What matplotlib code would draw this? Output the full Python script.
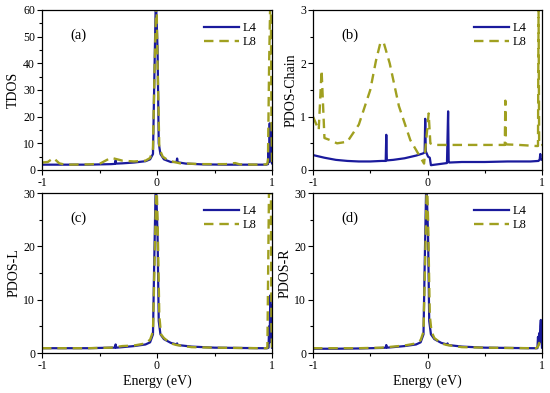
import matplotlib
matplotlib.use('Agg')
import matplotlib.pyplot as plt
from matplotlib.ticker import MultipleLocator

plt.rcParams['font.family'] = ['Liberation Serif', 'DejaVu Serif']

# ---- data ----
# (a) TDOS
a_e4 = [-1, -0.8, -0.6, -0.4, -0.365, -0.36, -0.355, -0.3, -0.2, -0.1, -0.06, -0.035, -0.025,
        -0.01, 0.005, 0.015, 0.03, 0.06, 0.12, 0.17, 0.175, 0.18, 0.25, 0.4, 0.6, 0.8, 0.95,
        0.965, 0.97, 0.975, 0.98, 0.985, 0.99, 0.995, 1.0]
a_v4 = [2.0, 2.0, 2.0, 2.2, 2.3, 3.6, 2.4, 2.5, 2.8, 3.3, 4.0, 6.0, 30, 65, 45, 10, 6.0, 4.0,
        3.0, 3.0, 4.3, 2.9, 2.4, 2.1, 2.0, 2.0, 2.0, 2.2, 7.0, 3.0, 17.5, 4.0, 16, 3.0, 2.5]
a_e8 = [-1, -0.95, -0.9, -0.85, -0.8, -0.6, -0.5, -0.4, -0.3, -0.2, -0.1, -0.06, -0.035, -0.02,
        -0.005, 0.005, 0.02, 0.05, 0.1, 0.2, 0.4, 0.6, 0.68, 0.72, 0.9, 0.95, 0.96, 0.965, 0.975,
        0.985, 0.99, 0.995, 1.0]
a_v8 = [2.8, 3.0, 4.5, 2.5, 2.0, 2.1, 2.3, 4.6, 3.5, 3.2, 3.5, 4.5, 8.0, 40, 65, 40, 8.0, 5.0,
        3.5, 2.5, 2.2, 2.2, 2.6, 2.1, 2.0, 2.1, 2.5, 4.0, 40, 64, 64, 20, 3.0]

# (b) PDOS-Chain
b_e4 = [-1, -0.9, -0.8, -0.7, -0.6, -0.5, -0.4, -0.365, -0.36, -0.355, -0.3, -0.2, -0.1, -0.04,
        -0.025, -0.02, -0.015, -0.005, 0.005, 0.02, 0.03, 0.1, 0.17, 0.18, 0.185, 0.19, 0.3, 0.5,
        0.7, 0.9, 0.97, 0.98, 0.985, 0.99, 1.0]
b_v4 = [0.28, 0.23, 0.19, 0.17, 0.16, 0.16, 0.17, 0.17, 0.66, 0.18, 0.19, 0.22, 0.27, 0.31,
        0.33, 0.96, 0.35, 0.3, 0.25, 0.23, 0.09, 0.11, 0.13, 1.1, 0.15, 0.14, 0.15, 0.15,
        0.16, 0.16, 0.17, 0.2, 0.3, 0.2, 0.19]
b_e8 = [-1, -0.95, -0.925, -0.9, -0.85, -0.79, -0.7, -0.6, -0.5, -0.45, -0.41, -0.38, -0.33,
        -0.25, -0.15, -0.03, 0.01, 0.025, 0.05, 0.3, 0.5, 0.675, 0.68, 0.685, 0.8, 0.95,
        0.965, 0.97, 0.975, 0.985, 1.0]
b_v8 = [1.0, 0.75, 1.87, 0.6, 0.56, 0.5, 0.53, 0.85, 1.5, 2.05, 2.4, 2.37, 2.0, 1.2, 0.56,
        0.12, 1.06, 0.5, 0.47, 0.47, 0.47, 0.47, 1.3, 0.48, 0.47, 0.45, 0.45, 3.0, 0.5,
        0.46, 0.47]

# (c) PDOS-L
c_e4 = [-1, -0.8, -0.6, -0.4, -0.365, -0.36, -0.355, -0.3, -0.2, -0.1, -0.06, -0.035, -0.025,
        -0.01, 0.005, 0.015, 0.03, 0.06, 0.12, 0.17, 0.175, 0.18, 0.3, 0.5, 0.7, 0.9, 0.96,
        0.97, 0.975, 0.98, 0.985, 0.99, 0.995, 1.0]
c_v4 = [0.9, 0.9, 0.9, 1.0, 1.0, 1.6, 1.0, 1.1, 1.3, 1.6, 2.0, 3.5, 16, 33, 22, 6.0, 3.5, 2.6,
        1.9, 1.6, 1.8, 1.5, 1.2, 1.0, 0.95, 0.9, 0.9, 1.0, 5.0, 2.0, 10.8, 3.5, 9.0, 1.0]
c_e8 = [-1, -0.8, -0.6, -0.4, -0.3, -0.2, -0.1, -0.06, -0.035, -0.02, -0.005, 0.005, 0.02,
        0.035, 0.06, 0.12, 0.17, 0.3, 0.5, 0.7, 0.9, 0.95, 0.96, 0.965, 0.975, 0.99, 0.995, 1.0]
c_v8 = [0.9, 0.9, 0.9, 1.0, 1.3, 1.4, 1.8, 2.5, 4.0, 18, 33, 25, 7.0, 3.5, 2.8, 1.8, 1.5, 1.1,
        1.0, 0.95, 0.9, 0.9, 1.0, 12, 33, 33, 5.0, 1.0]

# (d) PDOS-R
d_e4 = [-1, -0.8, -0.6, -0.4, -0.365, -0.36, -0.355, -0.3, -0.2, -0.1, -0.06, -0.035, -0.025,
        -0.01, 0.005, 0.015, 0.03, 0.06, 0.12, 0.17, 0.175, 0.18, 0.3, 0.5, 0.7, 0.9, 0.96,
        0.965, 0.97, 0.975, 0.98, 0.985, 0.99, 0.995, 1.0]
d_v4 = [0.8, 0.8, 0.85, 0.95, 1.0, 1.5, 1.0, 1.1, 1.3, 1.6, 2.0, 3.5, 16, 33, 22, 6.0, 3.5, 2.6,
        1.9, 1.6, 1.8, 1.5, 1.2, 1.0, 0.95, 0.9, 0.9, 3.0, 1.5, 3.7, 2.0, 5.0, 6.2, 3.0, 1.0]
d_e8 = [-1, -0.8, -0.6, -0.4, -0.3, -0.2, -0.1, -0.06, -0.035, -0.02, -0.005, 0.005, 0.02,
        0.035, 0.06, 0.12, 0.17, 0.3, 0.5, 0.7, 0.9, 0.95, 0.965, 0.975, 0.985, 1.0]
d_v8 = [0.9, 0.9, 0.9, 1.0, 1.2, 1.4, 1.8, 2.4, 4.0, 18, 33, 25, 7.0, 4.0, 2.8, 1.8, 1.5, 1.1,
        1.0, 0.95, 0.9, 0.9, 1.2, 1.9, 1.0, 0.9]

panels = [
    ('(a)', 'TDOS', a_e4, a_v4, a_e8, a_v8, 60, 10, 5),
    ('(b)', 'PDOS-Chain', b_e4, b_v4, b_e8, b_v8, 3, 1, 0.5),
    ('(c)', 'PDOS-L', c_e4, c_v4, c_e8, c_v8, 30, 10, 5),
    ('(d)', 'PDOS-R', d_e4, d_v4, d_e8, d_v8, 30, 10, 5),
]

blue = '#1a1a9c'
olive = '#a0a020'

fig = plt.figure(figsize=(5.5, 3.93), dpi=100)
rects = [
    [42 / 550, 223 / 393, 230 / 550, 160 / 393],
    [313 / 550, 223 / 393, 229 / 550, 160 / 393],
    [42 / 550, 40 / 393, 230 / 550, 160 / 393],
    [313 / 550, 40 / 393, 229 / 550, 160 / 393],
]

for i, (tag, ylab, e4, v4, e8, v8, ymax, ymaj, ymin) in enumerate(panels):
    ax = fig.add_axes(rects[i])
    ax.plot(e4, v4, color=blue, lw=1.6, label='L4')
    ax.plot(e8, v8, color=olive, lw=1.7, ls=(0, (4, 2.5)), label='L8')
    ax.set_xlim(-1, 1)
    ax.set_ylim(0, ymax)
    ax.set_xticks([-1, 0, 1])
    ax.set_xticklabels(['-1', '0', '1'])
    ax.xaxis.set_minor_locator(MultipleLocator(0.5))
    ax.yaxis.set_major_locator(MultipleLocator(ymaj))
    ax.yaxis.set_minor_locator(MultipleLocator(ymin))
    ax.tick_params(which='major', direction='out', length=3.5, width=0.8, labelsize=8.5, pad=1.5)
    ax.tick_params(which='minor', direction='out', length=2, width=0.8)
    for s in ax.spines.values():
        s.set_linewidth(0.9)
    ax.set_ylabel(ylab, fontsize=10, labelpad=2)
    if i >= 2:
        ax.set_xlabel('Energy (eV)', fontsize=10, labelpad=2)
    ax.text(0.16, 0.84, tag, transform=ax.transAxes, fontsize=10.5, ha='center', va='center')
    ax.legend(loc='upper right', frameon=False, fontsize=9, handlelength=2.8,
              handletextpad=0.3, borderaxespad=0.3, labelspacing=0.2,
              bbox_to_anchor=(0.97, 0.98))

fig.savefig('out.png', dpi=100)
